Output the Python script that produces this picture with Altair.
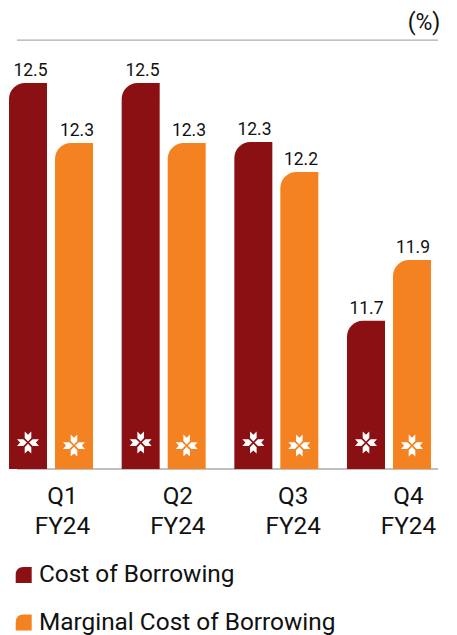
import altair as alt
import pandas as pd

quarters = ["Q1", "Q2", "Q3", "Q4"]
series = ["Cost of Borrowing", "Marginal Cost of Borrowing"]
cost = [12.5, 12.5, 12.303, 11.707]
marginal = [12.3, 12.3, 12.203, 11.91]
cost_labels = ["12.5", "12.5", "12.3", "11.7"]
marginal_labels = ["12.3", "12.3", "12.2", "11.9"]
colors = ["#8B1013", "#F58220"]

rows = []
for q, a, b, la, lb in zip(quarters, cost, marginal, cost_labels, marginal_labels):
    rows.append({"q": q, "s": series[0], "v": a, "base": 11.213, "label": la, "mark": 11.301})
    rows.append({"q": q, "s": series[1], "v": b, "base": 11.213, "label": lb, "mark": 11.291})
df = pd.DataFrame(rows)

FONT = "Roboto"
Y = alt.Scale(domain=[11.213, 12.75], range=[461, 0], nice=False, zero=False)
X_BAR = alt.X("q:N", axis=None, sort=quarters,
              scale=alt.Scale(type="band", range=[1, 423], paddingInner=0.2545, paddingOuter=0))
OFF = alt.XOffset("s:N", sort=series, scale=alt.Scale(type="band", paddingInner=0.174, paddingOuter=0))

COLOR = alt.Color("s:N", sort=series, scale=alt.Scale(domain=series, range=colors),
    legend=alt.Legend(title=None, orient="none", legendX=3.5, legendY=554, direction="vertical",
        symbolType="M-1,1L-1,0Q-1,-1,0,-1L1,-1L1,1Z", symbolSize=256, symbolStrokeWidth=0,
        labelFont=FONT, labelFontSize=24.4, labelColor="#111111", labelLimit=420,
        rowPadding=21.5, symbolOffset=0, labelOffset=3, clipHeight=26))

bars = alt.Chart(df).mark_bar(cornerRadiusTopLeft=16).encode(
    x=X_BAR, xOffset=OFF,
    y=alt.Y("v:Q", scale=Y, axis=None),
    y2="base:Q",
    color=COLOR,
)

STAR = ("M-.3,-1L0,-.72L.3,-1L.3,-.42L0,-.1L-.3,-.42Z"
        "M-.3,1L0,.72L.3,1L.3,.42L0,.1L-.3,.42Z"
        "M-1,-.3L-.72,0L-1,.3L-.42,.3L-.1,0L-.42,-.3Z"
        "M1,-.3L.72,0L1,.3L.42,.3L.1,0L.42,-.3Z")
stars = alt.Chart(df).mark_point(shape=STAR, filled=True, fill="white", opacity=1, size=484, strokeWidth=0).encode(
    x=X_BAR, xOffset=OFF,
    y=alt.Y("mark:Q", scale=Y, axis=None),
)

values = alt.Chart(df).mark_text(font=FONT, fontSize=17.5, color="#111111", baseline="bottom", dy=-3).encode(
    x=alt.X("q:N", axis=None, sort=quarters,
            scale=alt.Scale(type="band", range=[3.5, 424], paddingInner=0.2455, paddingOuter=0)),
    xOffset=alt.XOffset("s:N", sort=series, scale=alt.Scale(type="band", paddingInner=0.183, paddingOuter=0)),
    y=alt.Y("v:Q", scale=Y, axis=None),
    text="label:N",
)

ticks = alt.Chart(pd.DataFrame({"q": quarters, "t": quarters})).mark_text(opacity=0).encode(
    x=alt.X("q:N", sort=quarters, title=None,
            scale=alt.Scale(type="point", range=[54, 400], padding=0),
            axis=alt.Axis(domain=False, ticks=False, labelAngle=0, labelFont=FONT, labelFontSize=24.3,
                          labelColor="#111111", labelPadding=15, labelLineHeight=30,
                          labelExpr="[datum.label, 'FY24']")),
    text="t:N",
)

base_rule = alt.Chart(pd.DataFrame({"v": [11.213]})).mark_rule(color="#ABABAB", strokeWidth=1.5).encode(
    x=alt.value(9), x2=alt.value(430), y=alt.Y("v:Q", scale=Y, axis=None))
top_rule = alt.Chart(pd.DataFrame({"v": [12.643]})).mark_rule(color="#ABABAB", strokeWidth=1.2).encode(
    x=alt.value(9), x2=alt.value(430), y=alt.Y("v:Q", scale=Y, axis=None))
unit = alt.Chart(pd.DataFrame({"t": ["(%)"]})).mark_text(font=FONT, fontSize=23, color="#111111").encode(
    x=alt.value(416), y=alt.value(15), text="t:N")

chart = alt.layer(base_rule, top_rule, unit, bars, stars, values, ticks).resolve_scale(
    x="independent", xOffset="independent"
).properties(
    width=441, height=461, padding=0, autosize=alt.AutoSizeParams(type="pad"), background="white"
).configure_view(stroke=None)

chart.save("out.html", embed_options={"renderer": "svg", "actions": False})
